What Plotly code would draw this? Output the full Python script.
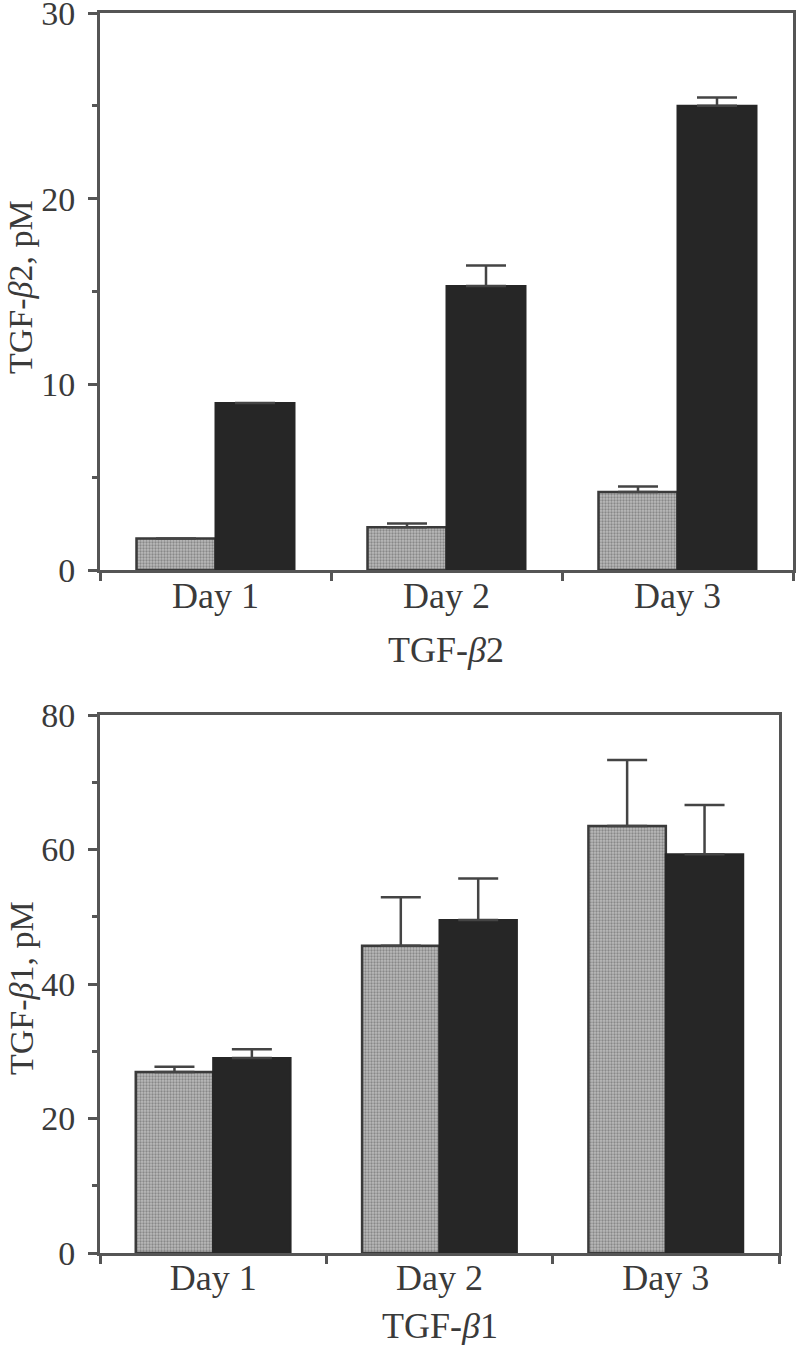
import plotly.graph_objects as go

days = ["Day 1", "Day 2", "Day 3"]

# TGF-beta2 panel (pM)
b2_gray = [1.7, 2.3, 4.2]
b2_gray_err = [0.0, 0.2, 0.3]
b2_black = [9.0, 15.3, 25.0]
b2_black_err = [0.0, 1.1, 0.45]

# TGF-beta1 panel (pM)
b1_gray = [26.9, 45.7, 63.5]
b1_gray_err = [0.8, 7.2, 9.8]
b1_black = [29.0, 49.5, 59.3]
b1_black_err = [1.3, 6.2, 7.3]

W, H = 796, 1345
FONT = "Liberation Serif"
TXT = "#3a3a3a"
AX = "#555555"

def px_x(x):
    return x / W

def px_y(y):
    return 1 - y / H

gray_marker = dict(
    color="#a0a0a0",
    line=dict(color="#3a3a3a", width=2.5),
    pattern=dict(shape=".", fgcolor="#555555", bgcolor="#bababa", size=3, solidity=0.45),
)
black_marker = dict(color="#262626", line=dict(color="#262626", width=2))

def err(arr):
    return dict(type="data", array=arr, arrayminus=[0] * len(arr), symmetric=False,
                color="#444444", thickness=2.5, width=20)

fig = go.Figure()
fig.add_trace(go.Bar(x=days, y=b2_gray, marker=gray_marker, error_y=err(b2_gray_err),
                     xaxis="x", yaxis="y", showlegend=False))
fig.add_trace(go.Bar(x=days, y=b2_black, marker=black_marker, error_y=err(b2_black_err),
                     xaxis="x", yaxis="y", showlegend=False))
fig.add_trace(go.Bar(x=days, y=b1_gray, marker=gray_marker, error_y=err(b1_gray_err),
                     xaxis="x2", yaxis="y2", showlegend=False))
fig.add_trace(go.Bar(x=days, y=b1_black, marker=black_marker, error_y=err(b1_black_err),
                     xaxis="x2", yaxis="y2", showlegend=False))

xcommon = dict(showline=True, linecolor=AX, linewidth=3, mirror=True, ticks="outside",
               tickson="boundaries", ticklen=8, tickwidth=2.5, tickcolor=AX,
               showgrid=False, zeroline=False, automargin=False,
               ticklabeloverflow="allow",
               tickfont=dict(family=FONT, size=36, color=TXT))
ycommon = dict(showline=True, linecolor=AX, linewidth=3, mirror=True, ticks="outside",
               ticklen=9, tickwidth=2.5, tickcolor=AX, showgrid=False, zeroline=False,
               automargin=False, ticklabelstandoff=6, ticklabeloverflow="allow",
               tickfont=dict(family=FONT, size=34, color=TXT))

fig.update_layout(
    width=W, height=H,
    margin=dict(l=0, r=0, t=0, b=0),
    paper_bgcolor="white", plot_bgcolor="white",
    barmode="group", bargap=0.316, bargroupgap=0.0,
    xaxis=dict(domain=[px_x(100), px_x(793)], anchor="y", ticklabelstandoff=-8, **xcommon),
    yaxis=dict(domain=[px_y(570), px_y(13)], anchor="x", range=[0, 30], dtick=10,
               minor=dict(dtick=5, ticks="outside", ticklen=5, tickwidth=2.5, tickcolor=AX),
               **ycommon),
    xaxis2=dict(domain=[px_x(100), px_x(779)], anchor="y2", ticklabelstandoff=-9, **xcommon),
    yaxis2=dict(domain=[px_y(1253), px_y(715)], anchor="x2", range=[0, 80], dtick=20,
                minor=dict(dtick=10, ticks="outside", ticklen=5, tickwidth=2.5, tickcolor=AX),
                **ycommon),
)

ann_font = dict(family=FONT, size=36, color=TXT)
yt_font = dict(family=FONT, size=34, color=TXT)
fig.add_annotation(text="TGF-<i>β</i>2, pM", textangle=-90, x=px_x(21), y=px_y(287),
                   xref="paper", yref="paper", showarrow=False, font=yt_font,
                   xanchor="center", yanchor="middle")
fig.add_annotation(text="TGF-<i>β</i>2", x=px_x(446), y=px_y(650),
                   xref="paper", yref="paper", showarrow=False, font=ann_font,
                   xanchor="center", yanchor="middle")
fig.add_annotation(text="TGF-<i>β</i>1, pM", textangle=-90, x=px_x(21), y=px_y(988),
                   xref="paper", yref="paper", showarrow=False, font=yt_font,
                   xanchor="center", yanchor="middle")
fig.add_annotation(text="TGF-<i>β</i>1", x=px_x(440), y=px_y(1326),
                   xref="paper", yref="paper", showarrow=False, font=ann_font,
                   xanchor="center", yanchor="middle")

fig.write_html("out.html", config={"displayModeBar": False},
               post_script="document.body.style.margin='0';")
